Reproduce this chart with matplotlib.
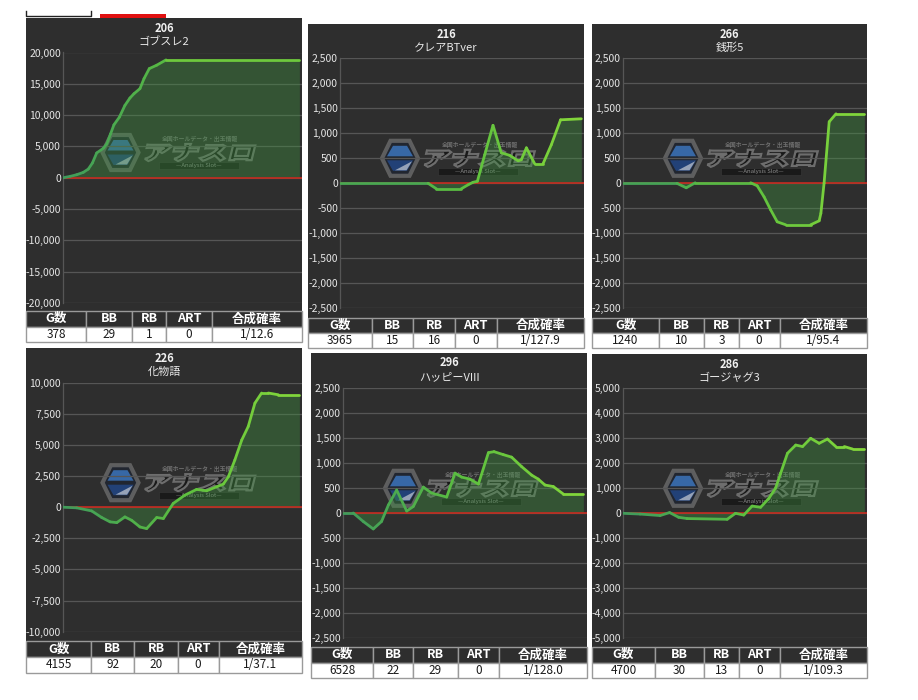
import matplotlib
matplotlib.use("Agg")
import matplotlib.pyplot as plt
from matplotlib.patches import Rectangle, Polygon, PathPatch
from matplotlib.collections import LineCollection
from matplotlib.textpath import TextPath
from matplotlib.font_manager import FontProperties
from matplotlib.transforms import Affine2D
from matplotlib.lines import Line2D
import matplotlib.colors as mcolors
import numpy as np

plt.rcParams['font.family'] = ['Noto Sans CJK JP', 'DejaVu Sans']

W, H = 918, 700

# ---- data ----
machine_no = ['206', '216', '266', '226', '296', '286']
machine_name = ['ゴブスレ2', 'クレアBTver', '銭形5', '化物語', 'ハッピーVIII', 'ゴージャグ3']
y_limit = [20000, 2500, 2500, 10000, 2500, 5000]
y_step = [5000, 500, 500, 2500, 500, 1000]

headers = ['G数', 'BB', 'RB', 'ART', '合成確率']
stats = [
    ['378', '29', '1', '0', '1/12.6'],
    ['3965', '15', '16', '0', '1/127.9'],
    ['1240', '10', '3', '0', '1/95.4'],
    ['4155', '92', '20', '0', '1/37.1'],
    ['6528', '22', '29', '0', '1/128.0'],
    ['4700', '30', '13', '0', '1/109.3'],
]

# progress through the day (0-100) and difference in medals
x1 = [0, 2.9, 5.7, 8.5, 10.6, 12.3, 14.1, 16.9, 18.3, 19.9, 21.3, 23.6, 25.9, 28.0,
      29.7, 32.2, 33.9, 36.1, 39.2, 43.1, 98.9]
y1 = [0, 210, 480, 860, 1390, 2350, 3960, 4710, 5400, 7000, 8450, 9680, 11550, 12730,
      13420, 14230, 15830, 17430, 17970, 18820, 18820]

x2 = [0, 36.1, 39.5, 49.7, 52.5, 54.5, 56.3, 59.3, 62.7, 66.1, 69.5, 73.0, 74.3, 76.4,
      79.8, 83.2, 86.6, 90.4, 98.9]
y2 = [0, 0, -110, -110, -30, 20, 40, 570, 1160, 610, 560, 450, 470, 710,
      390, 390, 770, 1270, 1290]

x3 = [0, 22.1, 25.9, 29.6, 52.3, 55.0, 57.8, 60.5, 63.2, 66.7, 76.9, 80.4, 81.1, 82.4,
      84.5, 87.3, 98.9]
y3 = [0, 0, -90, 10, 10, -50, -270, -530, -770, -830, -830, -750, -600, 0,
      1230, 1390, 1390]

x4 = [0, 5.7, 12.0, 16.2, 19.7, 22.5, 25.9, 28.7, 32.2, 35.0, 39.2, 42.0, 46.1, 51.0,
      55.9, 60.1, 64.3, 67.1, 69.2, 71.9, 74.8, 77.5, 80.3, 83.1, 85.9, 90.1, 98.9]
y4 = [0, -50, -300, -830, -1180, -1240, -780, -1050, -1590, -1720, -830, -910, 300, 970,
      1430, 1320, 1640, 1860, 2450, 3790, 5400, 6480, 8360, 9170, 9170, 9030, 9030]

x5 = [0, 4.2, 8.3, 12.4, 15.8, 18.6, 22.0, 26.1, 28.8, 32.9, 36.3, 42.5, 45.9, 48.6,
      52.0, 55.5, 59.6, 61.9, 65.7, 69.1, 73.2, 77.3, 80.0, 82.8, 86.2, 90.3, 98.5]
y5 = [0, 0, -170, -320, -170, 160, 460, 40, 130, 520, 400, 320, 800, 720,
      680, 580, 1210, 1230, 1170, 1120, 930, 760, 680, 560, 530, 380, 380]

x6 = [0, 7.0, 15.2, 19.1, 22.8, 26.2, 42.7, 46.1, 49.5, 52.9, 56.4, 59.8, 62.5, 64.6,
      67.4, 70.8, 73.6, 76.9, 80.4, 83.8, 87.2, 90.7, 94.1, 98.9]
y6 = [0, -30, -90, 30, -160, -210, -240, 0, -70, 290, 240, 600, 1000, 1600,
      2400, 2730, 2670, 3000, 2800, 2970, 2670, 2670, 2570, 2570]

series_x = [x1, x2, x3, x4, x5, x6]
series_y = [y1, y2, y3, y4, y5, y6]

# ---- layout (image pixels, y down) ----
panel_box = [(26, 18, 302, 311), (308, 24, 584, 318), (592, 24, 867, 318),
             (26, 348, 302, 641), (311, 353, 587, 647), (592, 354, 867, 647)]
plot_box = [(63, 52.5, 302, 303), (340, 58.3, 584, 308.3), (623, 58.3, 867, 308.3),
            (63, 382.7, 302, 631.7), (343, 388.3, 587, 637.7), (623, 388.3, 867, 638.3)]
table_y = [(311, 342), (318, 348), (318, 348), (641, 673), (647, 678), (647, 678)]
col_px = [[60, 46, 34, 46, 90], [64, 42, 42, 42, 88], [67, 45, 34, 41, 87],
          [65, 43, 43, 41, 83], [62, 39, 45, 41, 87], [63, 49, 35, 41, 87]]

BG = '#2e2e2e'
GRID = '#565656'

fig = plt.figure(figsize=(W / 100, H / 100), dpi=100)
fig.patch.set_facecolor('white')

# image pixel coords -> figure
pix = Affine2D().scale(1 / W, -1 / H).translate(0, 1) + fig.transFigure


def frac(x0, y0, x1, y1):
    return [x0 / W, 1 - y1 / H, (x1 - x0) / W, (y1 - y0) / H]


# leftover page tabs at the top
fig.add_artist(Line2D([26, 26, 91, 91], [11, 15.5, 15.5, 11], transform=pix,
                      color='#222222', lw=1))
fig.add_artist(Rectangle((100, 14), 66, 4, transform=pix, color='#e01010', lw=0))

wm_font = FontProperties(family='Noto Sans CJK JP', weight='heavy')


def watermark(cx, cy):
    hx = cx - 60
    outer = [(hx - 18, cy), (hx - 9.5, cy - 17.5), (hx + 9.5, cy - 17.5),
             (hx + 18, cy), (hx + 9.5, cy + 17.5), (hx - 9.5, cy + 17.5)]
    fig.add_artist(Polygon(outer, transform=pix, fc='#1e2431', ec='#6c6c6c',
                           lw=3, alpha=0.8, zorder=-1))
    top = [(hx - 13, cy - 2), (hx - 7, cy - 12.5), (hx + 7, cy - 12.5), (hx + 13, cy - 2)]
    fig.add_artist(Polygon(top, transform=pix, fc='#3d79c4', lw=0, alpha=0.8, zorder=-1))
    bot = [(hx - 13, cy + 2), (hx + 13, cy + 2), (hx + 7, cy + 12.5), (hx - 7, cy + 12.5)]
    fig.add_artist(Polygon(bot, transform=pix, fc='#23498a', lw=0, alpha=0.8, zorder=-1))
    tri = [(hx + 12, cy + 3), (hx + 6.5, cy + 12), (hx - 5, cy + 12)]
    fig.add_artist(Polygon(tri, transform=pix, fc='#c8ccd4', lw=0, alpha=0.7, zorder=-1))

    tp = TextPath((0, 0), 'アナスロ', size=20, prop=wm_font)
    bb = tp.get_extents()
    tr = (Affine2D().translate(-bb.x0 - bb.width / 2, -bb.y0 - bb.height / 2)
          .scale(108 / bb.width, -17 / bb.height).skew_deg(-14, 0)
          .translate(cx + 19, cy))
    fig.add_artist(PathPatch(tp, transform=tr + pix, fc='#161616', ec='#7a7a7a',
                             lw=1.6, alpha=0.85, zorder=-1))
    fig.text((cx + 20) / W, 1 - (cy - 13.5) / H, '全国ホールデータ・出玉情報',
             fontsize=4.2, color='#808080', ha='center', va='center',
             alpha=0.8, zorder=-1, fontweight='bold')
    fig.add_artist(Rectangle((cx - 22, cy + 9.5), 80, 7, transform=pix,
                             fc='#141414', ec='#3a3a3a', lw=0.5, alpha=0.75, zorder=-1))
    fig.text((cx + 18) / W, 1 - (cy + 13) / H, '—Analysis Slot—', fontsize=4.3,
             color='#a0a0a0', ha='center', va='center', alpha=0.85, zorder=-1)


line_cmap = mcolors.LinearSegmentedColormap.from_list('g', ['#3f9a5c', '#5cbf3f', '#86d83a'])

for i in range(6):
    bx0, by0, bx1, by1 = panel_box[i]
    fig.add_artist(Rectangle((bx0, by0), bx1 - bx0, by1 - by0, transform=pix,
                             fc=BG, lw=0, zorder=-2))
    mid = (bx0 + bx1) / 2
    fig.text(mid / W, 1 - (by0 + 10) / H, machine_no[i], ha='center', va='center',
             color='#f0f0f0', fontsize=8, fontweight='bold')
    fig.text(mid / W, 1 - (by0 + 24) / H, machine_name[i], ha='center', va='center',
             color='#e8e8e8', fontsize=8)

    px0, py0, px1, py1 = plot_box[i]
    watermark((px0 + px1) / 2 - 2, py0 + 100)

    ax = fig.add_axes(frac(px0, py0, px1, py1))
    ax.set_facecolor('none')
    lim, step = y_limit[i], y_step[i]
    ticks = np.arange(-lim, lim + step, step)
    ax.set_ylim(-lim, lim)
    ax.set_xlim(0, 100)
    ax.set_yticks(ticks)
    ax.set_yticklabels([f'{t:,}' for t in ticks])
    ax.set_xticks([])
    ax.tick_params(axis='y', length=0, pad=1.5, labelsize=7.5, labelcolor='#e6e6e6')
    ax.grid(axis='y', color=GRID, lw=0.9)
    ax.set_axisbelow(True)
    for s in ['top', 'right', 'bottom']:
        ax.spines[s].set_visible(False)
    ax.spines['left'].set_color(GRID)
    ax.spines['left'].set_linewidth(0.9)

    xs = np.array(series_x[i], dtype=float)
    ys = np.array(series_y[i], dtype=float)
    ax.fill_between(xs, ys, 0, color='#3f9440', alpha=0.38, lw=0, zorder=2)
    ax.axhline(0, color='#c62a1f', lw=1.2, zorder=3)
    pts = np.column_stack([xs, ys]).reshape(-1, 1, 2)
    segs = np.concatenate([pts[:-1], pts[1:]], axis=1)
    lc = LineCollection(segs, colors=line_cmap((xs[:-1] + xs[1:]) / 200),
                        linewidths=2.0, capstyle='round', joinstyle='round', zorder=4)
    ax.add_collection(lc)

    # stats table
    ty0, ty1 = table_y[i]
    tax = fig.add_axes(frac(bx0, ty0, bx1, ty1))
    tax.axis('off')
    cw = [c / sum(col_px[i]) for c in col_px[i]]
    tb = tax.table(cellText=[headers, stats[i]], colWidths=cw, bbox=[0, 0, 1, 1],
                   cellLoc='center')
    tb.auto_set_font_size(False)
    for (r, c), cell in tb.get_celld().items():
        cell.set_edgecolor('#9a9a9a')
        cell.set_linewidth(1.0)
        txt = cell.get_text()
        if r == 0:
            cell.set_facecolor(BG)
            txt.set_color('white')
            txt.set_fontweight('bold')
            txt.set_fontsize(9)
        else:
            cell.set_facecolor('white')
            txt.set_color('#1a1a1a')
            txt.set_fontsize(8.5)

fig.savefig('out.png', dpi=100, facecolor='white')
